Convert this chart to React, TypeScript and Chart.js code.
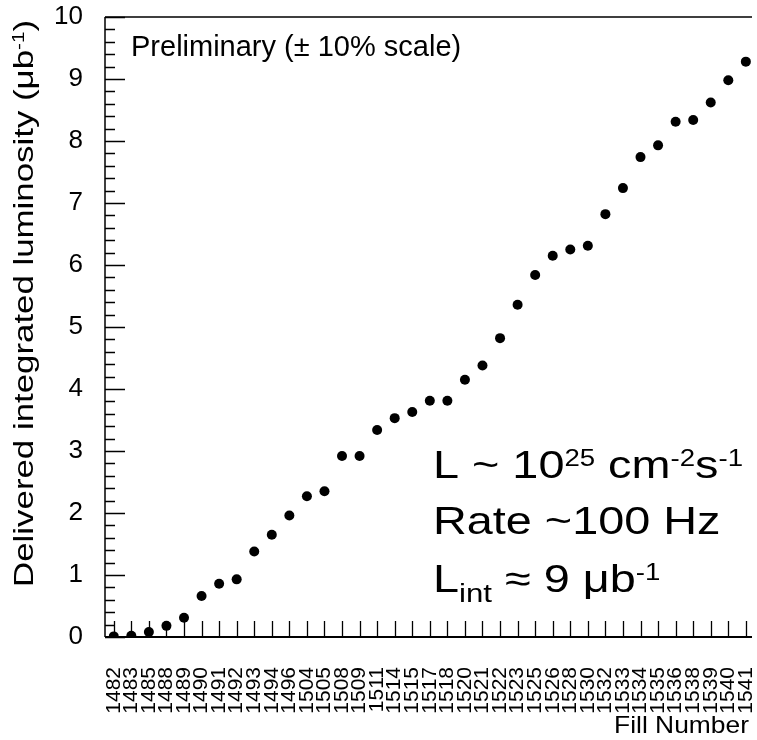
import React, { useEffect, useRef } from 'react';
import { Chart, registerables } from 'chart.js';

Chart.register(...registerables);

// Fill numbers (x categories)
const fillNumbers: string[] = [
  '1482', '1483', '1485', '1488', '1489', '1490', '1491', '1492', '1493', '1494',
  '1496', '1504', '1505', '1508', '1509', '1511', '1514', '1515', '1517', '1518',
  '1520', '1521', '1522', '1523', '1525', '1526', '1528', '1530', '1532', '1533',
  '1534', '1535', '1536', '1538', '1539', '1540', '1541',
];

// Delivered integrated luminosity (µb^-1)
const luminosity: number[] = [
  0.01, 0.02, 0.08, 0.18, 0.31, 0.66, 0.86, 0.93, 1.38, 1.65,
  1.96, 2.27, 2.35, 2.92, 2.92, 3.34, 3.53, 3.63, 3.81, 3.81,
  4.15, 4.38, 4.82, 5.36, 5.84, 6.15, 6.25, 6.31, 6.82, 7.24,
  7.74, 7.93, 8.31, 8.34, 8.62, 8.98, 9.28,
];

const yMin = 0;
const yMax = 10;
const yMinorStep = 0.2;

const preliminaryText = 'Preliminary (\u00B1 10% scale)';
const xTitle = 'Fill Number';

type Seg = { t: string; s: number; dy: number };

const TXT_FONT = '"Liberation Sans", Arial, Helvetica, sans-serif';
const TICK_FONT = '"Liberation Sans", Arial, Helvetica, sans-serif';

function drawRich(
  ctx: CanvasRenderingContext2D,
  segs: Seg[],
  x: number,
  y: number,
  sx: number,
  align: 'left' | 'right',
  rotate = 0,
) {
  ctx.save();
  ctx.translate(x, y);
  if (rotate) ctx.rotate(rotate);
  ctx.scale(sx, 1);
  ctx.textAlign = 'left';
  ctx.textBaseline = 'alphabetic';
  ctx.fillStyle = '#000';
  let total = 0;
  const widths: number[] = [];
  for (const s of segs) {
    ctx.font = `${s.s}px ${TXT_FONT}`;
    const w = ctx.measureText(s.t).width;
    widths.push(w);
    total += w;
  }
  let cx = align === 'right' ? -total : 0;
  segs.forEach((s, i) => {
    ctx.font = `${s.s}px ${TXT_FONT}`;
    ctx.fillText(s.t, cx, s.dy);
    cx += widths[i];
  });
  ctx.restore();
}

const framePlugin = {
  id: 'rootFrame',
  beforeDatasetsDraw(chart: any) {
    const { ctx, chartArea } = chart;
    const xs = chart.scales.x;
    const ys = chart.scales.y;
    const { left, right, top, bottom } = chartArea;
    ctx.save();
    ctx.strokeStyle = '#000';
    ctx.lineWidth = 2;
    ctx.beginPath();
    ctx.moveTo(left, bottom);
    ctx.lineTo(right, bottom);
    ctx.stroke();
    ctx.lineWidth = 1.5;
    ctx.beginPath();
    ctx.moveTo(left, top);
    ctx.lineTo(right, top);
    ctx.moveTo(left, top);
    ctx.lineTo(left, bottom);
    ctx.stroke();
    ctx.lineWidth = 1.3;
    ctx.beginPath();
    const n = Math.round((yMax - yMin) / yMinorStep);
    for (let i = 0; i <= n; i++) {
      const v = yMin + i * yMinorStep;
      const py = Math.round(ys.getPixelForValue(v)) + 0.5;
      const major = i % 5 === 0;
      ctx.moveTo(left, py);
      ctx.lineTo(left + (major ? 20 : 10), py);
    }
    ctx.stroke();
    ctx.beginPath();
    fillNumbers.forEach((_, i) => {
      const px = Math.round(xs.getPixelForValue(i)) + 0.5;
      ctx.moveTo(px, bottom);
      ctx.lineTo(px, bottom - 16);
    });
    ctx.stroke();
    ctx.restore();
  },
  afterDraw(chart: any) {
    const { ctx, chartArea } = chart;
    drawRich(ctx, [{ t: preliminaryText, s: 29, dy: 0 }], chartArea.left + 26, 56, 1.0, 'left');
    const F = 39;
    const S = 23;
    const up = -12;
    const lx = 433;
    const sx = 1.2;
    drawRich(ctx, [
      { t: 'L ~ 10', s: F, dy: 0 },
      { t: '25', s: S, dy: up },
      { t: ' cm', s: F, dy: 0 },
      { t: '-2', s: S, dy: up },
      { t: 's', s: F, dy: 0 },
      { t: '-1', s: S, dy: up },
    ], lx, 478, sx, 'left');
    drawRich(ctx, [{ t: 'Rate ~100 Hz', s: F, dy: 0 }], lx, 534, sx, 'left');
    drawRich(ctx, [
      { t: 'L', s: F, dy: 0 },
      { t: 'int', s: 26, dy: 10 },
      { t: ' \u2248 9 ', s: F, dy: 0 },
      { t: '\u03BC', s: F, dy: 0 },
      { t: 'b', s: F, dy: 0 },
      { t: '-1', s: S, dy: up },
    ], lx, 592, sx, 'left');
    drawRich(ctx, [{ t: xTitle, s: 24, dy: 0 }], 749, 733, 1.1, 'right');
    drawRich(ctx, [
      { t: 'Delivered integrated luminosity (\u03BCb', s: 27, dy: 0 },
      { t: '-1', s: 16, dy: -9 },
      { t: ')', s: 27, dy: 0 },
    ], 33, 20, 1.29, 'right', -Math.PI / 2);
  },
};

export default function App() {
  const ref = useRef<HTMLCanvasElement | null>(null);
  useEffect(() => {
    if (!ref.current) return;
    const chart = new Chart(ref.current, {
      type: 'scatter',
      data: {
        datasets: [
          {
            data: luminosity.map((v, i) => ({ x: i, y: v })),
            pointRadius: 5,
            pointHoverRadius: 5,
            pointBackgroundColor: '#000',
            pointBorderWidth: 0,
            borderColor: '#000',
            showLine: false,
          },
        ],
      },
      options: {
        responsive: false,
        animation: false,
        devicePixelRatio: 1,
        layout: { padding: { top: 17, left: 0, right: 0, bottom: 0 } },
        plugins: { legend: { display: false }, tooltip: { enabled: false }, title: { display: false } },
        scales: {
          x: {
            type: 'linear',
            min: -0.5,
            max: fillNumbers.length - 0.65,
            grid: { display: false },
            border: { display: false },
            ticks: {
              stepSize: 1,
              maxTicksLimit: 200,
              includeBounds: false,
              autoSkip: false,
              minRotation: 90,
              maxRotation: 90,
              padding: 22,
              color: '#000',
              font: { family: TICK_FONT, size: 21, lineHeight: 1 },
              callback: (v: any) => {
                const i = Math.round(Number(v));
                return Math.abs(Number(v) - i) < 1e-6 && fillNumbers[i] ? fillNumbers[i] : '';
              },
            },
            afterFit: (s: any) => {
              s.height = 103;
              s.paddingLeft = 0;
              s.paddingRight = 0;
            },
          },
          y: {
            type: 'linear',
            min: yMin,
            max: yMax,
            grid: { display: false },
            border: { display: false },
            ticks: {
              stepSize: 1,
              padding: 14,
              color: '#000',
              font: { family: TICK_FONT, size: 26 },
            },
            afterFit: (s: any) => {
              s.width = 105;
              s.paddingTop = 0;
              s.paddingBottom = 0;
            },
          },
        },
      },
      plugins: [framePlugin],
    } as any);
    return () => chart.destroy();
  }, []);
  return (
    <div style={{ position: 'absolute', left: 0, top: 0, width: 757, height: 740, background: '#fff' }}>
      <canvas ref={ref} width={757} height={740} style={{ display: 'block' }} />
    </div>
  );
}
